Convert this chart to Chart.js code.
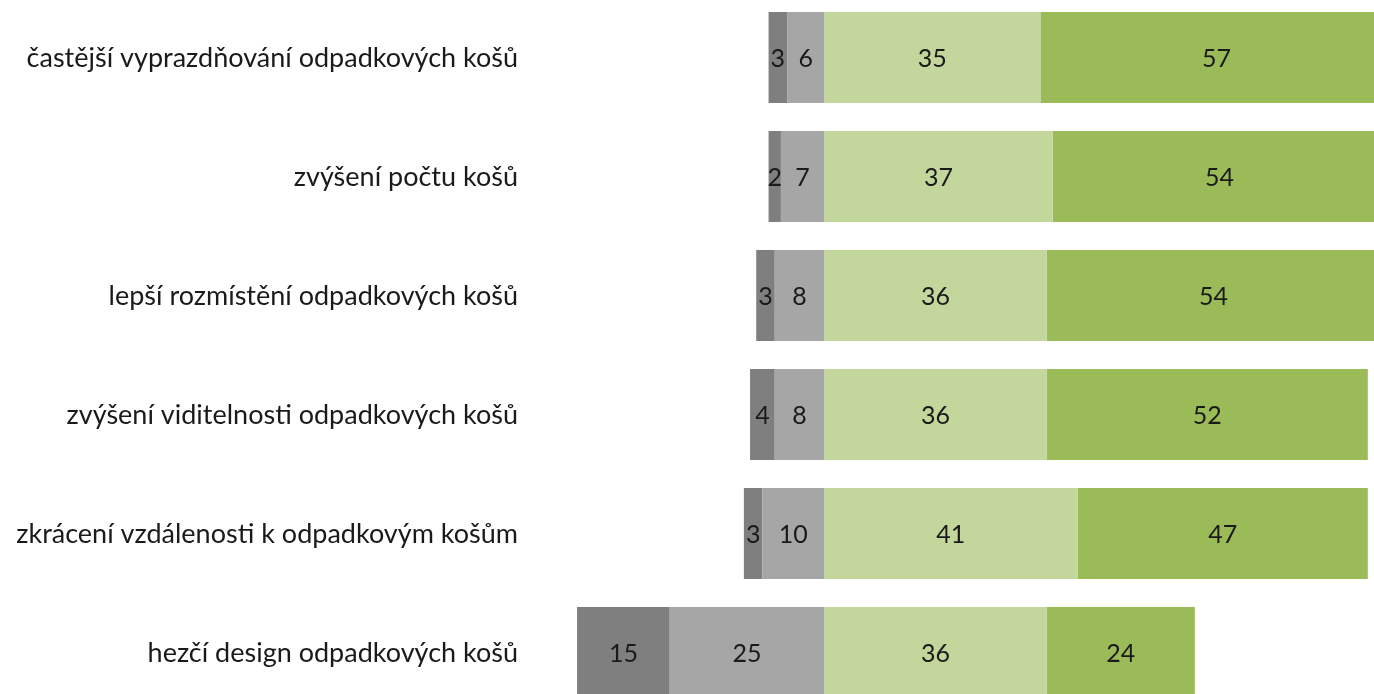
<!DOCTYPE html>
<html>
<head>
<meta charset="utf-8">
<script src="https://cdn.jsdelivr.net/npm/chart.js@4/dist/chart.umd.min.js"></script>
<style>
  html, body { margin: 0; padding: 0; background: #fff; overflow: hidden; }
  #wrap { position: absolute; left: 0; top: -2px; width: 1374px; height: 714px; }
</style>
</head>
<body>
<div id="wrap"><canvas id="bars"></canvas></div>
<script>
// kategorie a hodnoty (%)
const categories = [
  "častější vyprazdňování odpadkových košů",
  "zvýšení počtu košů",
  "lepší rozmístění odpadkových košů",
  "zvýšení viditelnosti odpadkových košů",
  "zkrácení vzdálenosti k odpadkovým košům",
  "hezčí design odpadkových košů"
];
const rozhodneNe = [3, 2, 3, 4, 3, 15];
const spiseNe = [6, 7, 8, 8, 10, 25];
const spiseAno = [35, 37, 36, 36, 41, 36];
const rozhodneAno = [57, 54, 54, 52, 47, 24];

const FONT = "Lato, 'Open Sans', sans-serif";

// popisky hodnot uprostřed segmentů
const valueLabels = {
  id: "valueLabels",
  afterDatasetsDraw(chart) {
    const ctx = chart.ctx;
    ctx.save();
    ctx.font = "25px " + FONT;
    ctx.fillStyle = "#1a1a1a";
    ctx.textAlign = "center";
    ctx.textBaseline = "middle";
    chart.data.datasets.forEach((ds, i) => {
      chart.getDatasetMeta(i).data.forEach((bar, j) => {
        const p = bar.getCenterPoint();
        ctx.fillText(Math.abs(ds.data[j]), p.x, p.y + 1);
      });
    });
    ctx.restore();
  }
};

const ctx = document.getElementById("bars").getContext("2d");

new Chart(ctx, {
  type: "bar",
  data: {
    labels: categories,
    datasets: [
      { label: "spíše ne", data: spiseNe.map(v => -v), backgroundColor: "#a6a6a6" },
      { label: "rozhodně ne", data: rozhodneNe.map(v => -v), backgroundColor: "#7f7f7f" },
      { label: "spíše ano", data: spiseAno, backgroundColor: "#c3d69b" },
      { label: "rozhodně ano", data: rozhodneAno, backgroundColor: "#9bbb59" }
    ]
  },
  options: {
    indexAxis: "y",
    responsive: true,
    maintainAspectRatio: false,
    animation: false,
    layout: { padding: 0 },
    datasets: {
      bar: { categoryPercentage: 1, barPercentage: 0.765, borderWidth: 0 }
    },
    scales: {
      x: {
        display: false,
        stacked: true,
        min: -46,
        max: 89
      },
      y: {
        stacked: true,
        grid: { display: false, drawTicks: false },
        border: { display: false },
        afterFit(scale) {
          scale.width = 540;
          scale.paddingTop = 0;
          scale.paddingBottom = 0;
        },
        ticks: {
          color: "#1a1a1a",
          padding: 22,
          labelOffset: 1,
          font: { family: FONT, size: 27 }
        }
      }
    },
    plugins: {
      legend: { display: false },
      tooltip: { enabled: false }
    }
  },
  plugins: [valueLabels]
});
</script>
</body>
</html>
